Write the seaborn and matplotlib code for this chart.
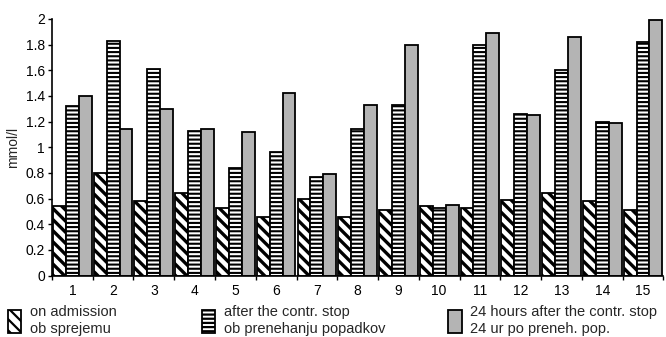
import matplotlib
matplotlib.use("Agg")
import matplotlib.pyplot as plt
from matplotlib.patches import Patch
import numpy as np
import pandas as pd
import seaborn as sns

# Serum values (mmol/l) per patient at three time points
patients = [str(i) for i in range(1, 16)]
on_admission = [0.54, 0.80, 0.58, 0.64, 0.53, 0.46, 0.60, 0.46, 0.51, 0.54, 0.53, 0.59, 0.64, 0.58, 0.51]
after_stop = [1.32, 1.83, 1.61, 1.13, 0.84, 0.96, 0.77, 1.14, 1.33, 0.53, 1.80, 1.26, 1.60, 1.20, 1.82]
after_24h = [1.40, 1.14, 1.30, 1.14, 1.12, 1.42, 0.79, 1.33, 1.80, 0.55, 1.89, 1.25, 1.86, 1.19, 1.99]

series_labels = [
    "on admission\nob sprejemu",
    "after the contr. stop\nob prenehanju popadkov",
    "24 hours after the contr. stop\n24 ur po preneh. pop.",
]

df = pd.DataFrame({
    "patient": patients * 3,
    "value": on_admission + after_stop + after_24h,
    "series": [series_labels[0]] * 15 + [series_labels[1]] * 15 + [series_labels[2]] * 15,
})

sns.set_theme(style="white")
plt.rcParams["font.family"] = ["Liberation Sans", "DejaVu Sans"]
plt.rcParams["hatch.linewidth"] = 1.6
plt.rcParams["hatch.color"] = "black"

fig = plt.figure(figsize=(6.66, 3.37), dpi=100)
ax = fig.add_axes([0.078, 0.182, 0.918, 0.762])

fills = ["white", "white", "#b4b4b4"]
hatches = ["\\\\\\", "----", ""]
hatch_widths = [2.4, 1.5, 1.0]


def style_patch(p, h, hw):
    p.set_hatch(h)
    p.set_edgecolor("black")
    if hasattr(p, "set_hatch_linewidth"):
        p.set_hatch_linewidth(hw)


sns.barplot(data=df, x="patient", y="value", hue="series", order=patients,
            hue_order=series_labels, palette=fills, width=0.95, ax=ax,
            edgecolor="black", linewidth=1.3, errorbar=None, legend=False,
            saturation=1)

for cont, h, hw in zip(ax.containers, hatches, hatch_widths):
    for bar in cont:
        style_patch(bar, h, hw)

ax.set_xlim(-0.5, 14.5)
ax.set_ylim(0, 2)
ax.set_yticks(np.arange(0, 2.01, 0.2))
ax.set_yticklabels(["0", "0.2", "0.4", "0.6", "0.8", "1", "1.2", "1.4", "1.6", "1.8", "2"])
ax.set_xticks(np.arange(-0.5, 15, 1.0), minor=True)
ax.tick_params(axis="x", which="major", length=0, labelsize=10, pad=6, colors="black")
ax.tick_params(axis="x", which="minor", length=3, width=1, direction="out", bottom=True, color="black")
ax.tick_params(axis="y", length=3, width=1, direction="out", left=True, labelsize=10,
               pad=2, colors="black")
ax.set_xlabel("")
ax.set_ylabel("mmol/l", fontsize=10, labelpad=4)

for side in ["top", "right"]:
    ax.spines[side].set_visible(False)
for side in ["left", "bottom"]:
    ax.spines[side].set_color("black")
    ax.spines[side].set_linewidth(1.2)

# Three legend entries placed across the bottom
legend_x = [-0.0015, 0.290, 0.660]
for lab, fc, h, hw, lx in zip(series_labels, fills, hatches, hatch_widths, legend_x):
    handle = Patch(facecolor=fc, edgecolor="black", linewidth=1.3)
    style_patch(handle, h, hw)
    fig.legend([handle], [lab], loc="lower left", bbox_to_anchor=(lx, -0.022),
               frameon=False, fontsize=10.5, handlelength=0.92, handleheight=2.05,
               handletextpad=0.6, borderaxespad=0.2, labelspacing=0)

fig.savefig("out.png", dpi=100)
